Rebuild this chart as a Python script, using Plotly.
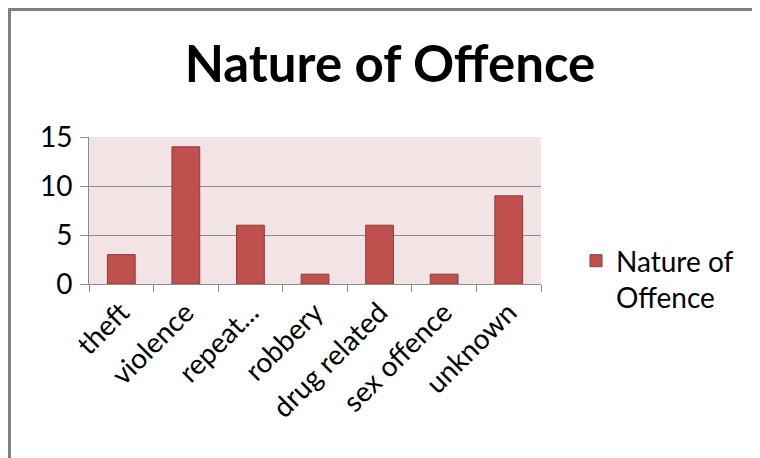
import plotly.graph_objects as go

categories = ["theft", "violence", "repeat...", "robbery", "drug related", "sex offence", "unknown"]
values = [3, 14, 6, 1, 6, 1, 9]
series_name = "Nature of Offence"
y_ticks = [0, 5, 10, 15]

FONT = "Lato"

# The page puts the figure 8px in from the window corner; work in window pixels
OFF = 8
W, H = 760 - OFF, 458 - OFF
# plot area in window pixels: x 89..541, y 137..284
L, R, T, B = 89 - OFF, 541 - OFF, 137 - OFF, 284 - OFF

def px(x):  # window x -> paper
    return (x - OFF - L) / (R - L)
def py(y):  # window y -> paper
    return (B - (y - OFF)) / (B - T)

fig = go.Figure()
fig.add_trace(go.Bar(
    x=categories, y=values, name="Nature of<br>Offence",
    marker=dict(color="#C0504D", line=dict(color="#8E3B39", width=1)),
))

shapes = [
    dict(type="line", xref="paper", yref="paper", x0=px(9.5), x1=px(9.5), y0=py(8), y1=py(470),
         line=dict(color="#808080", width=3), layer="below"),
    dict(type="line", xref="paper", yref="paper", x0=px(8), x1=px(770), y0=py(9.5), y1=py(9.5),
         line=dict(color="#808080", width=3), layer="below"),
]

fig.update_layout(
    width=W, height=H,
    margin=dict(l=L, r=W - R, t=T, b=H - B, autoexpand=False),
    paper_bgcolor="white",
    plot_bgcolor="#F2E4E4",
    font=dict(family=FONT, color="black"),
    title=dict(text="<b>Nature of Offence</b>", x=(390 - OFF) / W, xanchor="center", xref="container",
               y=1 - (64 - OFF) / H, yanchor="middle", yref="container",
               font=dict(family=FONT, size=51, color="black")),
    bargap=0.57,
    showlegend=True,
    legend=dict(x=px(576), y=py(236), xanchor="left", yanchor="top", valign="top",
                font=dict(family=FONT, size=28, color="black"), bgcolor="rgba(0,0,0,0)",
                itemwidth=30, tracegroupgap=0),
    shapes=shapes,
    xaxis=dict(
        type="category", showline=True, linecolor="#8C8C8C", linewidth=1,
        ticks="outside", tickson="boundaries", ticklen=7, tickcolor="#8C8C8C",
        tickangle=-45, tickfont=dict(family=FONT, size=28, color="black"),
        showgrid=False, zeroline=False,
    ),
    yaxis=dict(
        range=[0, 15], tickvals=y_ticks, showline=True, linecolor="#8C8C8C", linewidth=1,
        ticks="outside", ticklen=8, tickcolor="#8C8C8C",
        showgrid=True, gridcolor="#8C8C8C", gridwidth=1, zeroline=False,
        tickfont=dict(family=FONT, size=28, color="black"), ticklabelstandoff=2,
    ),
)

fig.write_html("out.html")
